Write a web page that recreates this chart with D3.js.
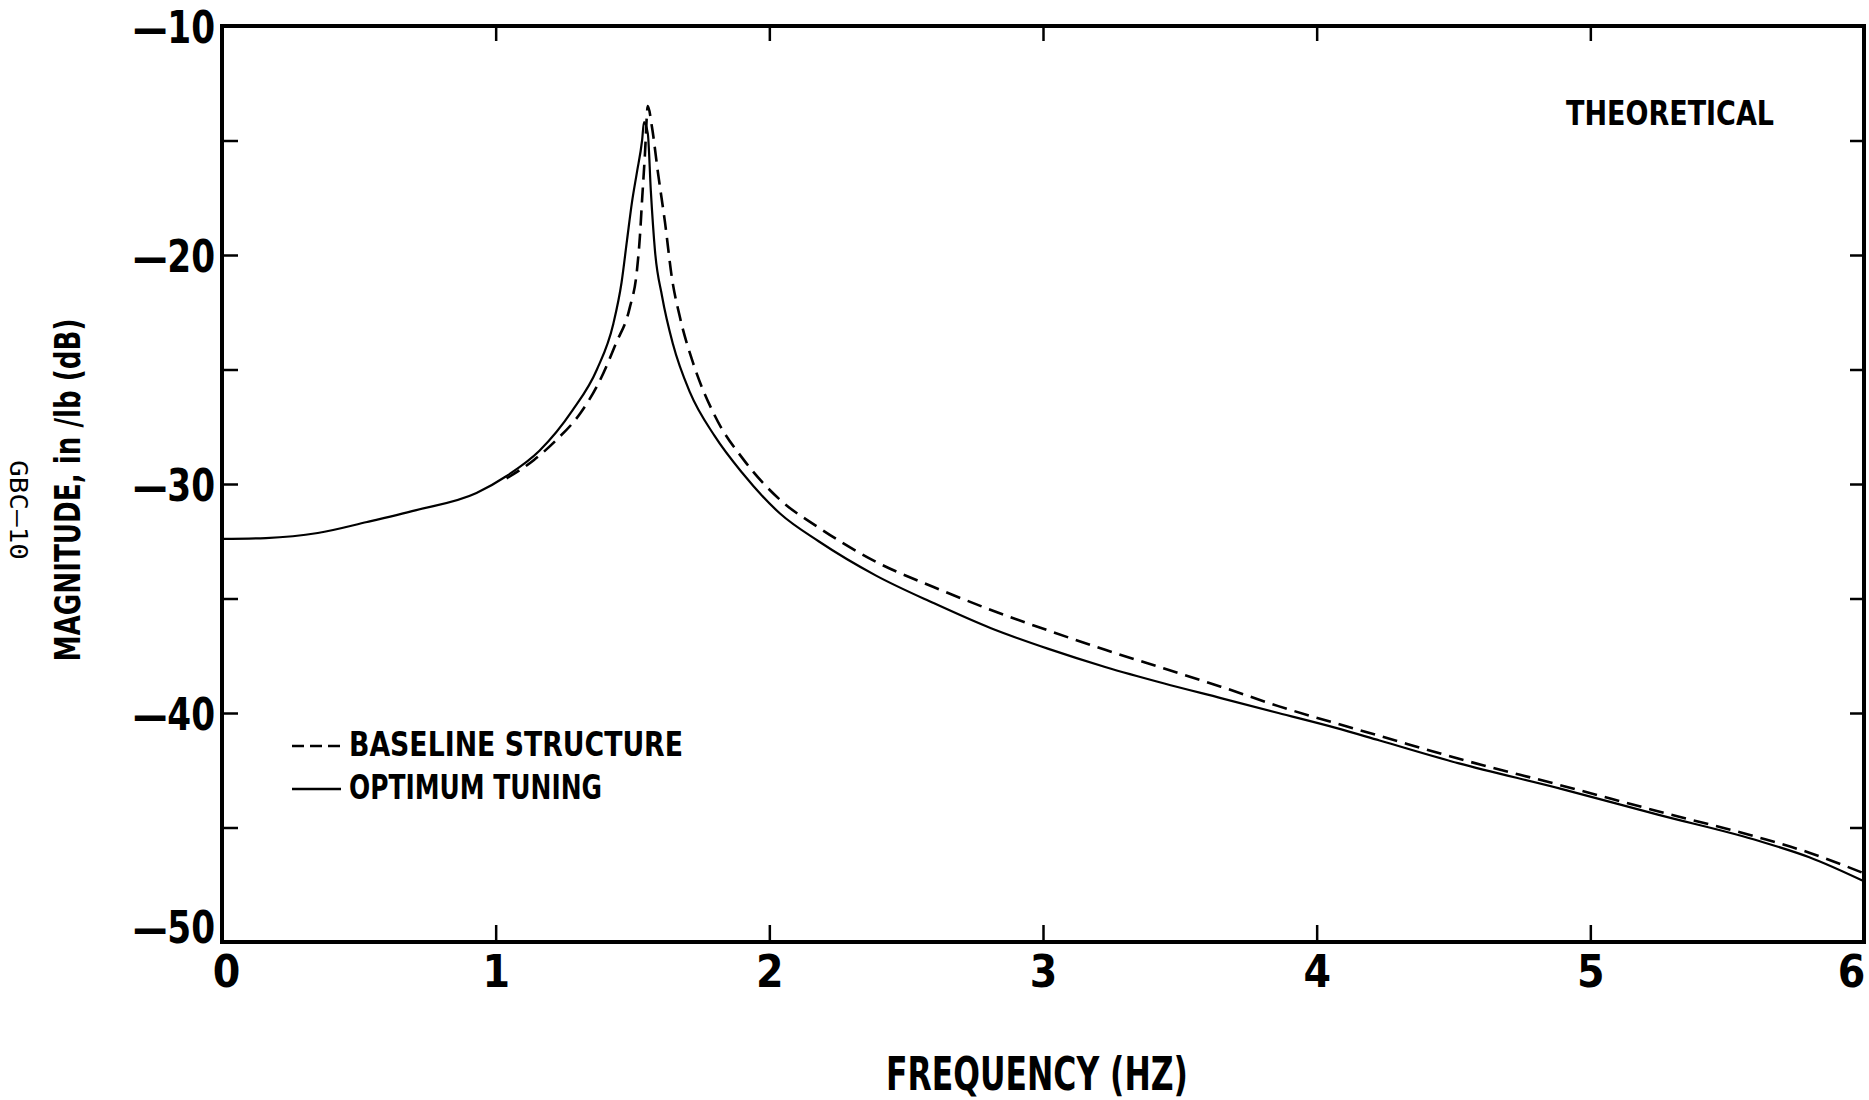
<!DOCTYPE html>
<html>
<head>
<meta charset="utf-8" />
<title>Magnitude vs Frequency</title>
<script src="https://cdnjs.cloudflare.com/ajax/libs/d3/7.8.5/d3.min.js"></script>
<style>
  body { margin: 0; background: #fff; }
  svg { display: block; }
</style>
</head>
<body>
<svg id="chart" width="1869" height="1100"></svg>
<script>
// values
const freqTicks = [0, 1, 2, 3, 4, 5, 6];
const dbTicks = [-10, -15, -20, -25, -30, -35, -40, -45, -50];

const optimumFreq = [0, 0.16, 0.35, 0.53, 0.71, 0.93, 1.04, 1.16, 1.28, 1.37, 1.43, 1.46, 1.48, 1.498, 1.516, 1.535, 1.542,
  1.556, 1.567, 1.582, 1.608, 1.648, 1.71, 1.80, 1.90, 2.04, 2.18, 2.39, 2.60, 2.81, 3.02, 3.23, 3.44, 3.65, 3.86, 4.07, 4.23,
  4.52, 4.89, 5.25, 5.62, 5.80, 6.0];
const optimumDb = [-32.4, -32.36, -32.14, -31.66, -31.14, -30.39, -29.65, -28.55, -26.8, -25.0, -23.0, -21.2, -19.35, -17.7, -16.4, -15.0, -14.2,
  -14.7, -17.2, -19.8, -21.8, -23.9, -26.0, -27.9, -29.5, -31.3, -32.5, -34.0, -35.2, -36.3, -37.2, -38.0, -38.7, -39.35, -40.0, -40.65, -41.2,
  -42.2, -43.3, -44.45, -45.6, -46.3, -47.35];

const baselineFreq = [1.04, 1.14, 1.22, 1.31, 1.38, 1.44, 1.49, 1.516, 1.527, 1.535, 1.545, 1.556,
  1.571, 1.593, 1.619, 1.644, 1.673, 1.721, 1.80, 1.91, 2.04, 2.18, 2.39, 2.60, 2.81, 3.02, 3.23, 3.44, 3.65, 3.86, 4.07, 4.23,
  4.52, 4.89, 5.25, 5.62, 5.80, 6.0];
const baselineDb = [-29.75, -28.95, -28.1, -26.9, -25.5, -23.85, -22.3, -20.7, -19.2, -17.6, -15.7, -13.5,
  -14.4, -16.4, -18.6, -21.0, -22.7, -24.7, -27.0, -29.0, -30.7, -31.9, -33.4, -34.5, -35.5, -36.4, -37.25, -38.05, -38.85, -39.7, -40.45, -41.0,
  -42.0, -43.15, -44.3, -45.45, -46.1, -47.0];

const legendLabels = ['BASELINE STRUCTURE', 'OPTIMUM TUNING'];

const FONT = "'Liberation Sans Narrow', 'DejaVu Sans Condensed', 'Roboto', sans-serif";

const svg = d3.select('#chart');
svg.append('rect').attr('width', 1869).attr('height', 1100).attr('fill', '#fff');

const plotLeft = 222, plotRight = 1864, plotTop = 26, plotBottom = 942;
const x = d3.scaleLinear().domain([0, 6]).range([plotLeft, plotRight]);
const y = d3.scaleLinear().domain([-50, -10]).range([plotBottom, plotTop]);

// axes with inward ticks
const yLeft = d3.axisLeft(y).tickValues(dbTicks).tickSize(-16).tickSizeOuter(0).tickPadding(7)
  .tickFormat(d => d % 10 === 0 ? '\u2014' + Math.abs(d) : '');
const gL = svg.append('g').attr('transform', `translate(${plotLeft},0)`).call(yLeft);
gL.selectAll('text')
  .attr('font-family', FONT).attr('font-weight', 'bold').attr('font-size', 44).attr('fill', '#000')
  .attr('dy', d => d === -50 ? '0em' : '0.37em')
  .attr('textLength', d => d % 10 === 0 ? 82 : null)
  .attr('lengthAdjust', 'spacingAndGlyphs');

const yRight = d3.axisRight(y).tickValues(dbTicks.slice(1, -1)).tickSize(-14).tickSizeOuter(0).tickFormat('');
svg.append('g').attr('transform', `translate(${plotRight},0)`).call(yRight);

const xTop = d3.axisTop(x).tickValues(freqTicks.slice(1, -1)).tickSize(-15).tickSizeOuter(0).tickFormat('');
svg.append('g').attr('transform', `translate(0,${plotTop})`).call(xTop);

const xBottom = d3.axisBottom(x).tickValues(freqTicks).tickSize(-17).tickSizeOuter(0).tickFormat(d3.format('d'));
const gB = svg.append('g').attr('transform', `translate(0,${plotBottom})`).call(xBottom);
gB.selectAll('text')
  .attr('font-family', FONT).attr('font-weight', 'bold').attr('font-size', 44).attr('fill', '#000')
  .attr('y', 45).attr('dy', 0)
  .attr('dx', d => d === 0 ? 4 : d === 6 ? -13 : 0);

svg.selectAll('.domain').remove();
svg.selectAll('.tick line').attr('stroke', '#000').attr('stroke-width', 2.5);

// frame
svg.append('rect')
  .attr('x', plotLeft).attr('y', plotTop)
  .attr('width', plotRight - plotLeft).attr('height', plotBottom - plotTop)
  .attr('fill', 'none').attr('stroke', '#000').attr('stroke-width', 4);

// curves
const line = d3.line().x(d => x(d[0])).y(d => y(d[1])).curve(d3.curveMonotoneX);
const optimum = optimumFreq.map((f, i) => [f, optimumDb[i]]);
const baseline = baselineFreq.map((f, i) => [f, baselineDb[i]]);

svg.append('path').datum(baseline)
  .attr('d', line).attr('fill', 'none').attr('stroke', '#000')
  .attr('stroke-width', 2.6).attr('stroke-dasharray', '15,8');

svg.append('path').datum(optimum)
  .attr('d', line).attr('fill', 'none').attr('stroke', '#000')
  .attr('stroke-width', 2.2);

// legend
const legend = svg.append('g');
legend.append('line').attr('x1', 292).attr('x2', 341).attr('y1', 746).attr('y2', 746)
  .attr('stroke', '#000').attr('stroke-width', 2.5).attr('stroke-dasharray', '12,6');
legend.append('line').attr('x1', 292).attr('x2', 341).attr('y1', 789).attr('y2', 789)
  .attr('stroke', '#000').attr('stroke-width', 2.5);
legend.selectAll('text.leg').data(legendLabels).enter().append('text')
  .attr('class', 'leg')
  .attr('x', 349).attr('y', (d, i) => 756 + i * 43)
  .attr('font-family', FONT).attr('font-weight', 'bold').attr('font-size', 33)
  .attr('textLength', (d, i) => i === 0 ? 334 : 253).attr('lengthAdjust', 'spacingAndGlyphs')
  .text(d => d);

// annotations
svg.append('text')
  .attr('x', 1566).attr('y', 125)
  .attr('font-family', FONT).attr('font-weight', 'bold').attr('font-size', 34)
  .attr('textLength', 208).attr('lengthAdjust', 'spacingAndGlyphs')
  .text('THEORETICAL');

svg.append('text')
  .attr('x', 1037).attr('y', 1090).attr('text-anchor', 'middle')
  .attr('font-family', FONT).attr('font-weight', 'bold').attr('font-size', 46)
  .attr('textLength', 302).attr('lengthAdjust', 'spacingAndGlyphs')
  .text('FREQUENCY (HZ)');

svg.append('text')
  .attr('transform', 'translate(80,490) rotate(-90)')
  .attr('text-anchor', 'middle')
  .attr('font-family', "'DejaVu Sans', 'Liberation Sans', sans-serif").attr('font-weight', 'bold').attr('font-size', 36)
  .attr('textLength', 343).attr('lengthAdjust', 'spacingAndGlyphs')
  .text('MAGNITUDE, in /lb (dB)');

svg.append('text')
  .attr('transform', 'translate(10,510) rotate(90)')
  .attr('text-anchor', 'middle')
  .attr('font-family', "'DejaVu Sans Mono', 'Liberation Mono', monospace").attr('font-size', 25)
  .attr('textLength', 100).attr('lengthAdjust', 'spacingAndGlyphs')
  .text('GBC\u201310');
</script>
</body>
</html>
